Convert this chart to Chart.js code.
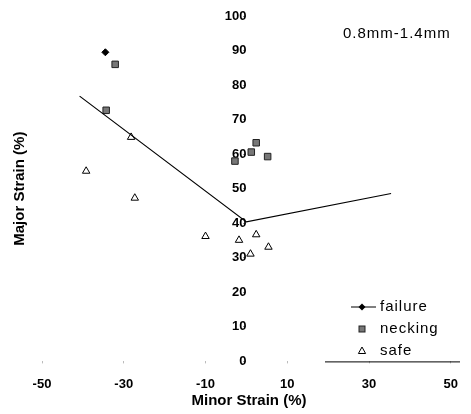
<!DOCTYPE html>
<html lang="en">
<head>
<meta charset="UTF-8">
<title>Forming Limit - 0.8mm-1.4mm</title>
<script src="https://cdn.jsdelivr.net/npm/chart.js"></script>
<style>
  body { margin: 0; background: #fff; }
  #wrap { width: 471px; height: 414px; }
</style>
</head>
<body>
<div id="wrap"><canvas id="flc" width="471" height="414"></canvas></div>
<script>
// values (minor strain %, major strain %)
const failureMinor = [-34.5];
const failureMajor = [89.5];

const neckingMinor = [-32.1, -34.3, -2.8, 1.2, 2.4, 5.2];
const neckingMajor = [86.0, 72.7, 58.0, 60.6, 63.3, 59.3];

const safeMinor = [-39.2, -28.2, -27.3, -10.0, -1.8, 2.4, 1.0, 5.4];
const safeMajor = [55.1, 64.9, 47.3, 36.2, 35.1, 36.7, 31.1, 33.1];

// forming limit curve
const flcMinor = [-40.8, 0, 35.4];
const flcMajor = [76.8, 40.4, 48.6];

const xTicks = [-50, -30, -10, 10, 30, 50];
const yTicks = [0, 10, 20, 30, 40, 50, 60, 70, 80, 90, 100];

const legendItems = ['failure', 'necking', 'safe'];
const panelLabel = '0.8mm-1.4mm';

function pts(xs, ys) {
  return xs.map((x, i) => ({ x: x, y: ys[i] }));
}

// small marker painter used by the hand drawn legend
function marker(ctx, kind, x, y) {
  ctx.save();
  ctx.lineWidth = 1;
  ctx.strokeStyle = '#000';
  if (kind === 'failure') {
    ctx.beginPath();
    ctx.moveTo(x - 11, y); ctx.lineTo(x + 14, y);
    ctx.stroke();
    ctx.fillStyle = '#000';
    ctx.beginPath();
    ctx.moveTo(x, y - 3.5); ctx.lineTo(x + 3.5, y); ctx.lineTo(x, y + 3.5); ctx.lineTo(x - 3.5, y);
    ctx.closePath(); ctx.fill();
  } else if (kind === 'necking') {
    ctx.fillStyle = '#777';
    ctx.strokeStyle = '#222';
    ctx.fillRect(x - 3, y - 3, 6, 6);
    ctx.strokeRect(x - 3, y - 3, 6, 6);
  } else {
    ctx.beginPath();
    ctx.moveTo(x, y - 4); ctx.lineTo(x + 3.6, y + 2.5); ctx.lineTo(x - 3.6, y + 2.5);
    ctx.closePath(); ctx.stroke();
  }
  ctx.restore();
}

const extras = {
  id: 'extras',
  afterDraw(chart) {
    const ctx = chart.ctx;
    const area = chart.chartArea;
    ctx.save();
    ctx.fillStyle = '#000';

    // panel label
    ctx.font = '15px "Liberation Sans", Arial, sans-serif';
    ctx.letterSpacing = '1px';
    ctx.textAlign = 'left';
    ctx.textBaseline = 'middle';
    ctx.fillText(panelLabel, 343, 34);

    // legend
    const lx = 362, tx = 380;
    const rows = [307, 329, 351];
    legendItems.forEach((name, i) => {
      marker(ctx, name, lx, rows[i]);
      ctx.fillStyle = '#000';
      ctx.fillText(name, tx, rows[i]);
    });
    ctx.letterSpacing = '0px';

    // line under the legend
    ctx.strokeStyle = '#000';
    ctx.lineWidth = 1;
    ctx.beginPath();
    ctx.moveTo(325, area.bottom + 0.5);
    ctx.lineTo(460, area.bottom + 0.5);
    ctx.stroke();

    // axis titles
    ctx.font = 'bold 15px "Liberation Sans", Arial, sans-serif';
    ctx.textAlign = 'center';
    ctx.fillText('Minor Strain (%)', 249, 401);
    ctx.translate(20, (area.top + area.bottom) / 2);
    ctx.rotate(-Math.PI / 2);
    ctx.fillText('Major Strain (%)', 0, 0);
    ctx.restore();
  }
};

const tickFont = { family: '"Liberation Sans", Arial, sans-serif', size: 13, weight: 'bold' };

new Chart(document.getElementById('flc'), {
  type: 'scatter',
  data: {
    datasets: [
      {
        label: 'FLC',
        type: 'line',
        data: pts(flcMinor, flcMajor),
        borderColor: '#000',
        borderWidth: 1.2,
        pointRadius: 0,
        fill: false,
        tension: 0
      },
      {
        label: 'failure',
        data: pts(failureMinor, failureMajor),
        pointStyle: 'rectRot',
        pointRadius: 3.5,
        backgroundColor: '#000',
        borderColor: '#000',
        borderWidth: 1
      },
      {
        label: 'necking',
        data: pts(neckingMinor, neckingMajor),
        pointStyle: 'rect',
        pointRadius: 4.6,
        backgroundColor: '#777',
        borderColor: '#222',
        borderWidth: 1
      },
      {
        label: 'safe',
        data: pts(safeMinor, safeMajor),
        pointStyle: 'triangle',
        pointRadius: 4.3,
        backgroundColor: 'rgba(0,0,0,0)',
        borderColor: '#000',
        borderWidth: 1
      }
    ]
  },
  options: {
    responsive: false,
    animation: false,
    layout: { padding: { left: 42, right: 13, top: 16, bottom: 9 } },
    plugins: {
      legend: { display: false },
      tooltip: { enabled: false }
    },
    scales: {
      x: {
        type: 'linear',
        position: 'bottom',
        min: -50,
        max: 50,
        afterBuildTicks: s => { s.ticks = xTicks.map(v => ({ value: v })); },
        grid: { display: true, drawOnChartArea: false, drawTicks: true, tickLength: 2, color: '#bbb' },
        border: { display: false },
        ticks: { color: '#000', font: tickFont, padding: 13, maxRotation: 0, autoSkip: false }
      },
      y: {
        type: 'linear',
        position: { x: 0 },
        min: 0,
        max: 100,
        afterBuildTicks: s => { s.ticks = yTicks.map(v => ({ value: v })); },
        grid: { display: true, drawOnChartArea: false, drawTicks: true, tickLength: 3, color: '#999' },
        border: { display: false },
        ticks: { color: '#000', font: tickFont, padding: 8, autoSkip: false }
      }
    }
  },
  plugins: [extras]
});
</script>
</body>
</html>
